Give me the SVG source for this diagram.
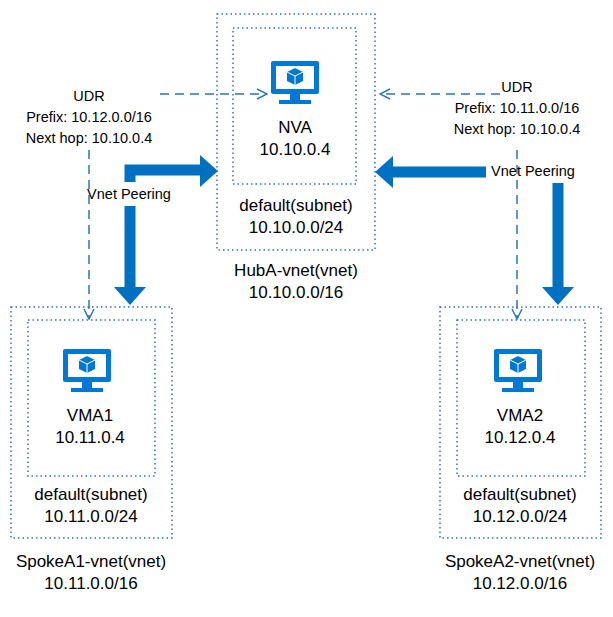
<svg xmlns="http://www.w3.org/2000/svg" width="613" height="617" viewBox="0 0 613 617">
<defs>
<style>
.box{fill:none;stroke:#2e75b6;stroke-width:1.5;stroke-dasharray:1.5 3}
.t{font-family:"Liberation Sans",Arial,sans-serif;font-size:17px;fill:#000;text-anchor:middle}
.s{font-family:"Liberation Sans",Arial,sans-serif;font-size:14.5px;fill:#000;text-anchor:middle}
.dash{fill:none;stroke:#2e75b6;stroke-width:1.5;stroke-dasharray:9 6}
.thick{fill:none;stroke:#0070c0;stroke-width:11}
.ic{fill:#0078d4}
</style>
<marker id="open" viewBox="0 0 12 12" refX="11" refY="6" markerWidth="12" markerHeight="12" markerUnits="userSpaceOnUse" orient="auto"><path d="M1,1 L11,6 L1,11" fill="none" stroke="#2e75b6" stroke-width="1.5"/></marker>
<g id="mon">
<rect x="-24" y="-22" width="48" height="33" rx="2" class="ic"/>
<rect x="-19" y="-17" width="38" height="23" fill="#fff"/>
<path d="M0,-15 L8,-11 L8,-2 L0,2 L-8,-2 L-8,-11 Z" class="ic"/>
<path d="M-8,-11 L0,-7 L8,-11 M0,-7 L0,2" stroke="#fff" stroke-width="1" fill="none"/>
<rect x="-5" y="11" width="10" height="6" class="ic"/>
<rect x="-16" y="17" width="32" height="4" class="ic"/>
</g>
</defs>
<rect width="613" height="617" fill="#fff"/>
<g id="hub">
<rect class="box" x="217" y="14" width="158" height="236"/>
<rect class="box" x="233" y="28" width="123" height="156"/>
<use href="#mon" x="295" y="83"/>
<text class="t" x="295" y="133">NVA</text>
<text class="t" x="295" y="155">10.10.0.4</text>
<text class="t" x="296" y="211">default(subnet)</text>
<text class="t" x="296" y="233">10.10.0.0/24</text>
<text class="t" x="296" y="276">HubA-vnet(vnet)</text>
<text class="t" x="296" y="298">10.10.0.0/16</text>
</g>
<g id="spokeA1">
<rect class="box" x="11" y="307" width="161" height="231"/>
<rect class="box" x="28" y="320" width="127" height="156"/>
<use href="#mon" x="87" y="371"/>
<text class="t" x="90" y="421">VMA1</text>
<text class="t" x="90" y="443">10.11.0.4</text>
<text class="t" x="91" y="500">default(subnet)</text>
<text class="t" x="91" y="522">10.11.0.0/24</text>
<text class="t" x="91" y="567">SpokeA1-vnet(vnet)</text>
<text class="t" x="91" y="589">10.11.0.0/16</text>
</g>
<g id="spokeA2">
<rect class="box" x="440" y="307" width="161" height="231"/>
<rect class="box" x="457" y="320" width="128" height="156"/>
<use href="#mon" x="518" y="371"/>
<text class="t" x="520" y="421">VMA2</text>
<text class="t" x="520" y="443">10.12.0.4</text>
<text class="t" x="520" y="500">default(subnet)</text>
<text class="t" x="520" y="522">10.12.0.0/24</text>
<text class="t" x="520" y="567">SpokeA2-vnet(vnet)</text>
<text class="t" x="520" y="589">10.12.0.0/16</text>
</g>
<g id="connectors">
<path class="dash" d="M160,94 L267,94" marker-end="url(#open)"/>
<path class="dash" d="M500,94 L380,94" marker-end="url(#open)"/>
<path class="dash" d="M89,150 L89,319" marker-end="url(#open)"/>
<path class="dash" d="M517,150 L517,319" marker-end="url(#open)"/>
<path class="thick" d="M130,182 L130,170 L201,170"/>
<path d="M200,155 L218,171 L200,187 Z" fill="#0070c0"/>
<path class="thick" d="M130,206 L130,288"/>
<path d="M114,287 L146,287 L130,305 Z" fill="#0070c0"/>
<path class="thick" d="M486,172 L392,172"/>
<path d="M393,156 L375,172 L393,188 Z" fill="#0070c0"/>
<path class="thick" d="M558,183 L558,288"/>
<path d="M542,287 L574,287 L558,305 Z" fill="#0070c0"/>
<text class="s" x="89" y="101">UDR</text>
<text class="s" x="89" y="122">Prefix: 10.12.0.0/16</text>
<text class="s" x="89" y="143">Next hop: 10.10.0.4</text>
<text class="s" x="129" y="199">Vnet Peering</text>
<text class="s" x="517" y="92">UDR</text>
<text class="s" x="517" y="113">Prefix: 10.11.0.0/16</text>
<text class="s" x="517" y="134">Next hop: 10.10.0.4</text>
<text class="s" x="533" y="176">Vnet Peering</text>
</g>
</svg>
